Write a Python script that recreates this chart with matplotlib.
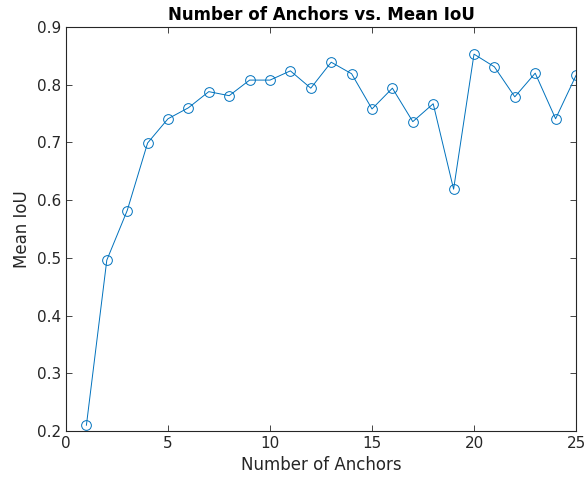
import matplotlib
matplotlib.use("Agg")
import matplotlib.pyplot as plt

num_anchors = list(range(1, 26))
mean_iou = [0.210, 0.496, 0.582, 0.699, 0.741, 0.760, 0.788, 0.781, 0.808, 0.808,
            0.824, 0.794, 0.839, 0.819, 0.758, 0.794, 0.736, 0.767, 0.619, 0.853,
            0.831, 0.779, 0.820, 0.741, 0.816]

x_ticks = [0, 5, 10, 15, 20, 25]
y_ticks = [0.2, 0.3, 0.4, 0.5, 0.6, 0.7, 0.8, 0.9]

fig = plt.figure(figsize=(5.86, 4.78), dpi=100)
ax = fig.add_axes([66 / 586, 47 / 478, 510 / 586, 404 / 478])

ax.plot(num_anchors, mean_iou, color='#0072BD', linewidth=0.7, marker='o',
        markersize=7, markerfacecolor='none', markeredgewidth=0.7)

ax.set_xlim(0, 25)
ax.set_ylim(0.2, 0.9)
ax.set_xticks(x_ticks)
ax.set_yticks(y_ticks)
ax.set_yticklabels([f'{v:g}' for v in y_ticks])

for spine in ax.spines.values():
    spine.set_color('#262626')
    spine.set_linewidth(0.8)
ax.tick_params(direction='in', top=True, right=True, length=4, width=0.6,
               colors='#262626', labelsize=11)

ax.set_xlabel('Number of Anchors', fontsize=12, color='#262626')
ax.set_ylabel('Mean IoU', fontsize=12, color='#262626')
ax.set_title('Number of Anchors vs. Mean IoU', fontsize=12, fontweight='bold', pad=5)

fig.savefig('out.png', dpi=100)
